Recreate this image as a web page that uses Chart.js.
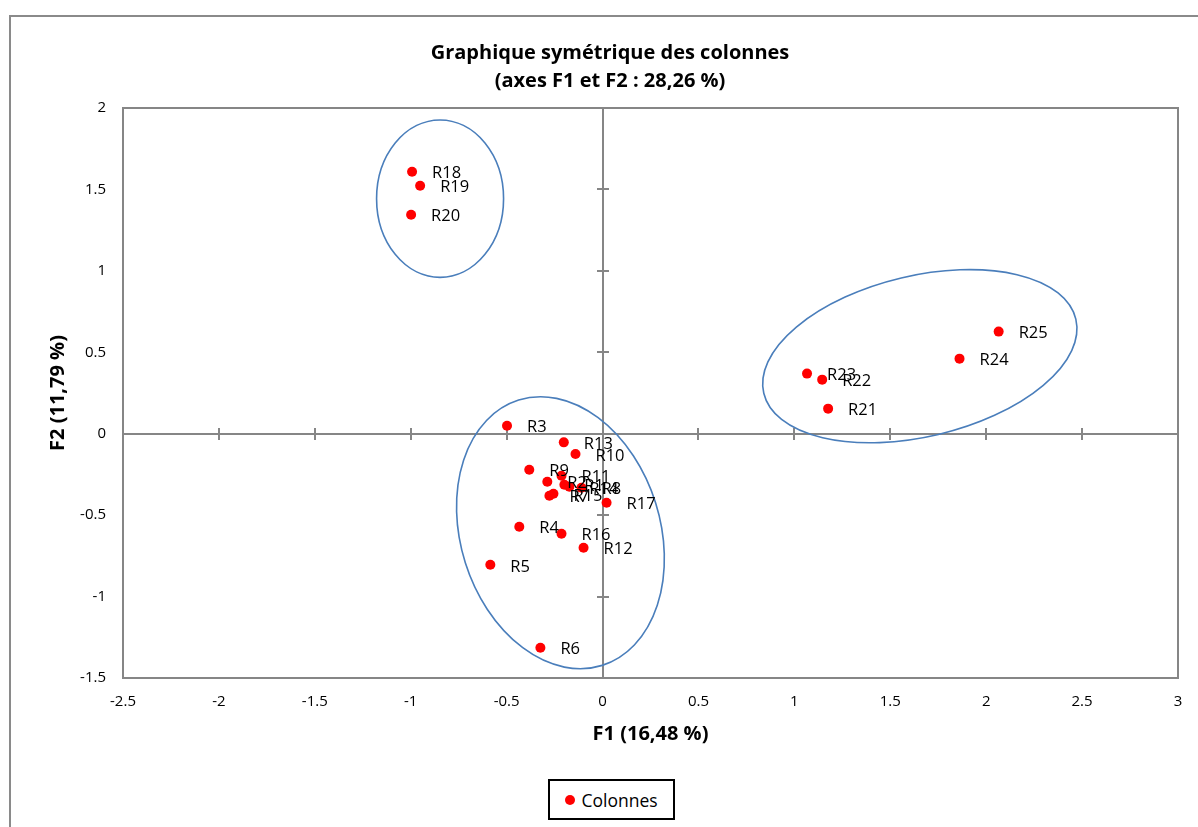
<!DOCTYPE html>
<html>
<head>
<meta charset="utf-8">
<script src="https://cdn.jsdelivr.net/npm/chart.js@4.4.1/dist/chart.umd.min.js"></script>
<style>
  html, body { margin: 0; padding: 0; background: #fff; }
  #wrap { position: relative; width: 1198px; height: 827px; overflow: hidden; }
  #frame { position: absolute; left: 9px; top: 15px; width: 1200px; height: 830px;
           border-left: 2px solid #8a8a8a; border-top: 2px solid #8a8a8a; box-sizing: border-box; }
  #chart { position: absolute; left: 0; top: 0; }
  #legend { position: absolute; left: 548px; top: 779px; width: 127px; height: 41px;
            border: 2px solid #000; box-sizing: border-box; background: #fff;
            font-family: 'Open Sans', 'Noto Sans', sans-serif; font-size: 17.5px; color: #000;
            display: flex; align-items: center; justify-content: center; }
  .legend-dot { display: inline-block; width: 10px; height: 10px; border-radius: 50%;
                background: #ff0000; margin-right: 6px; }
</style>
</head>
<body>
<div id="wrap">
  <div id="frame"></div>
  <canvas id="chart" width="1198" height="827"></canvas>
  <div id="legend"></div>
</div>
<script>
// row labels and their coordinates on F1 / F2
const LABELS = ['R1','R2','R3','R4','R5','R6','R7','R8','R9','R10','R11','R12','R13',
                'R14','R15','R16','R17','R18','R19','R20','R21','R22','R23','R24','R25'];
const F1 = [-0.199,-0.288,-0.498,-0.434,-0.585,-0.324,-0.277,-0.110,-0.382,-0.141,-0.214,-0.099,-0.202,
            -0.173,-0.256,-0.214, 0.021,-0.993,-0.951,-0.998, 1.176, 1.145, 1.066, 1.861, 2.065];
const F2 = [-0.313,-0.295, 0.049,-0.571,-0.805,-1.314,-0.381,-0.332,-0.221,-0.125,-0.258,-0.700,-0.053,
            -0.326,-0.369,-0.614,-0.424, 1.609, 1.523, 1.345, 0.154, 0.332, 0.369, 0.461, 0.627];

// axis ranges
const X_MIN = -2.5, X_MAX = 3, X_STEP = 0.5;
const Y_MIN = -1.5, Y_MAX = 2, Y_STEP = 0.5;

// group ellipses in axis units: centre, semi-axes, tilt (deg)
const ELL_CX  = [-0.847, -0.2195, 1.654];
const ELL_CY  = [ 1.443, -0.608,  0.476];
const ELL_RX  = [ 0.331,  0.520,  0.836];
const ELL_RY  = [ 0.483,  0.854,  0.494];
const ELL_ROT = [ 0,    -17.5,  -13.35];

const FONT = "'Open Sans', 'Noto Sans', sans-serif";
const AXIS_GREY = '#868686';

const points = F1.map((x, i) => ({ x: x, y: F2[i], label: LABELS[i] }));

// plot box, zero axes with cross ticks, ellipses, point labels, titles
const decorPlugin = {
  id: 'decor',
  beforeDatasetsDraw(chart) {
    const { ctx, chartArea: a, scales: { x, y } } = chart;
    ctx.save();
    ctx.strokeStyle = AXIS_GREY;
    ctx.lineWidth = 2;
    ctx.strokeRect(a.left, a.top, a.right - a.left, a.bottom - a.top);

    const x0 = Math.round(x.getPixelForValue(0));
    const y0 = Math.round(y.getPixelForValue(0));
    ctx.beginPath();
    ctx.moveTo(a.left, y0); ctx.lineTo(a.right, y0);
    ctx.moveTo(x0, a.top); ctx.lineTo(x0, a.bottom);
    for (let v = X_MIN; v <= X_MAX + 1e-9; v += X_STEP) {
      const px = Math.round(x.getPixelForValue(v));
      ctx.moveTo(px, y0 - 6); ctx.lineTo(px, y0 + 6);
    }
    for (let v = Y_MIN; v <= Y_MAX + 1e-9; v += Y_STEP) {
      const py = Math.round(y.getPixelForValue(v));
      ctx.moveTo(x0 - 6, py); ctx.lineTo(x0 + 6, py);
    }
    ctx.stroke();

    ctx.strokeStyle = '#4a7ebb';
    ctx.lineWidth = 1.6;
    ELL_CX.forEach((cx, i) => {
      const px = x.getPixelForValue(cx);
      const py = y.getPixelForValue(ELL_CY[i]);
      const rx = Math.abs(x.getPixelForValue(cx + ELL_RX[i]) - px);
      const ry = Math.abs(y.getPixelForValue(ELL_CY[i] + ELL_RY[i]) - py);
      ctx.beginPath();
      ctx.ellipse(px, py, rx, ry, ELL_ROT[i] * Math.PI / 180, 0, Math.PI * 2);
      ctx.stroke();
    });
    ctx.restore();
  },
  afterDatasetsDraw(chart) {
    const { ctx, chartArea: a } = chart;
    const meta = chart.getDatasetMeta(0);
    ctx.save();
    ctx.fillStyle = '#000';
    ctx.font = '16.5px ' + FONT;
    ctx.textAlign = 'left';
    ctx.textBaseline = 'middle';
    meta.data.forEach((el, i) => {
      ctx.fillText(LABELS[i], el.x + 20, el.y + 2);
    });

    ctx.font = 'bold 20px ' + FONT;
    ctx.textAlign = 'center';
    const cx = (a.left + a.right) / 2;
    ctx.fillText('Graphique symétrique des colonnes', 610, 53);
    ctx.fillText('(axes F1 et F2 : 28,26 %)', 610, 81);
    ctx.fillText('F1 (16,48 %)', cx, 734);
    ctx.translate(58, (a.top + a.bottom) / 2);
    ctx.rotate(-Math.PI / 2);
    ctx.fillText('F2 (11,79 %)', 0, 0);
    ctx.restore();
  }
};

new Chart(document.getElementById('chart').getContext('2d'), {
  type: 'scatter',
  data: {
    datasets: [{
      label: 'Colonnes',
      data: points,
      backgroundColor: '#ff0000',
      borderColor: '#ff0000',
      borderWidth: 0,
      pointRadius: 5,
      pointHoverRadius: 5
    }]
  },
  options: {
    responsive: false,
    animation: false,
    events: [],
    layout: { padding: { top: 108, right: 20, left: 0, bottom: 0 } },
    plugins: {
      legend: { display: false },
      tooltip: { enabled: false }
    },
    scales: {
      x: {
        type: 'linear', min: X_MIN, max: X_MAX,
        grid: { display: false },
        border: { display: false },
        ticks: { stepSize: X_STEP, color: '#000', font: { family: FONT, size: 15 }, padding: 7,
                 callback: v => String(v) },
        afterFit: s => { s.height = 149; }
      },
      y: {
        type: 'linear', min: Y_MIN, max: Y_MAX,
        grid: { display: false },
        border: { display: false },
        ticks: { stepSize: Y_STEP, color: '#000', font: { family: FONT, size: 15 }, padding: 9,
                 callback: v => String(v) },
        afterFit: s => { s.width = 123; }
      }
    }
  },
  plugins: [decorPlugin]
});

document.getElementById('legend').innerHTML =
  '<span class="legend-dot"></span>Colonnes';
</script>
</body>
</html>
